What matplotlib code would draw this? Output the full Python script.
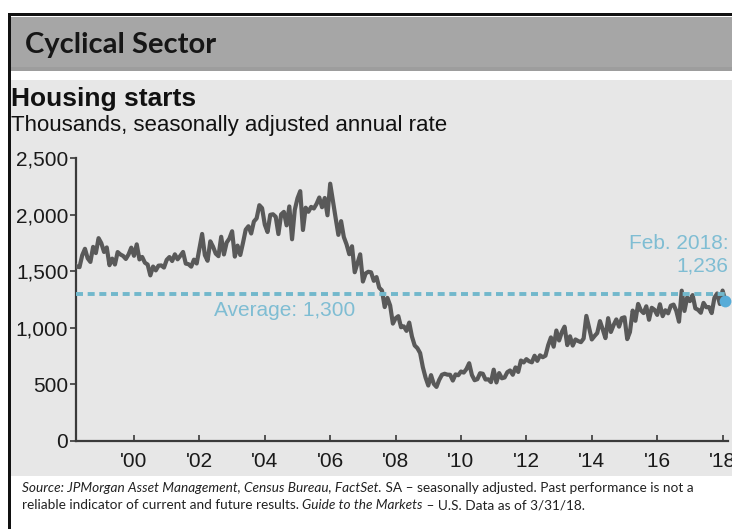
import matplotlib
matplotlib.use("Agg")
import matplotlib.pyplot as plt
from matplotlib.patches import Rectangle
import numpy as np

# Monthly housing starts, thousands SAAR, Mar 1998 - Feb 2018
start_year = 1998
start_month = 3
starts = [
    # 1998 (Mar-Dec)
    1567, 1540, 1536, 1641, 1698, 1614, 1582, 1715, 1660, 1792,
    # 1999
    1748, 1670, 1710, 1553, 1611, 1559, 1669, 1648, 1635, 1608, 1648, 1708,
    # 2000
    1636, 1737, 1604, 1626, 1575, 1559, 1463, 1541, 1507, 1549, 1551, 1532,
    # 2001
    1600, 1625, 1590, 1649, 1605, 1636, 1670, 1567, 1562, 1540, 1602, 1568,
    # 2002
    1698, 1829, 1642, 1592, 1764, 1717, 1655, 1633, 1804, 1648, 1753, 1788,
    # 2003
    1853, 1629, 1726, 1643, 1751, 1867, 1897, 1833, 1939, 1967, 2083, 2057,
    # 2004
    1911, 1846, 1998, 2003, 1981, 1828, 2002, 2024, 1905, 2072, 1782, 2042,
    # 2005
    2144, 2207, 1864, 2061, 2025, 2068, 2054, 2095, 2151, 2065, 2147, 1994,
    # 2006
    2273, 2119, 1969, 1821, 1942, 1802, 1737, 1650, 1720, 1491, 1570, 1649,
    # 2007
    1409, 1480, 1495, 1490, 1415, 1448, 1354, 1330, 1183, 1264, 1197, 1037,
    # 2008
    1084, 1103, 1005, 1013, 973, 1046, 923, 844, 820, 777, 652, 560,
    # 2009
    490, 582, 505, 478, 540, 585, 594, 586, 585, 534, 588, 581,
    # 2010
    614, 604, 636, 687, 583, 537, 546, 599, 594, 543, 545, 520,
    # 2011
    630, 517, 600, 554, 561, 608, 623, 585, 650, 610, 711, 694,
    # 2012
    723, 704, 695, 753, 708, 757, 740, 754, 847, 915, 833, 976,
    # 2013
    888, 962, 1010, 847, 925, 843, 897, 883, 873, 905, 1105, 1003,
    # 2014
    897, 927, 954, 1059, 987, 909, 1085, 963, 1024, 1074, 1010, 1085,
    # 2015
    1093, 900, 963, 1152, 1062, 1211, 1154, 1130, 1190, 1071, 1177, 1159,
    # 2016
    1114, 1208, 1103, 1155, 1128, 1195, 1205, 1150, 1054, 1328, 1149, 1268,
    # 2017
    1236, 1289, 1172, 1159, 1133, 1220, 1182, 1183, 1130, 1265, 1303, 1210,
    # 2018
    1329, 1236,
]
average_value = 1300
latest_label = "Feb. 2018:"
latest_value = 1236

tick_years = [2000, 2002, 2004, 2006, 2008, 2010, 2012, 2014, 2016, 2018]
tick_labels = ["'00", "'02", "'04", "'06", "'08", "'10", "'12", "'14", "'16", "'18"]
y_ticks = [0, 500, 1000, 1500, 2000, 2500]

W, H = 732, 529
fig = plt.figure(figsize=(W / 100, H / 100), dpi=100)
fig.patch.set_facecolor("white")


def fx(px):
    return px / W


def fy(py):
    return 1 - py / H


def band(x0, y0, x1, y1, color):
    fig.patches.append(Rectangle((fx(x0), fy(y1)), fx(x1) - fx(x0), fy(y0) - fy(y1),
                                 transform=fig.transFigure, facecolor=color,
                                 edgecolor="none", zorder=-5))


# page frame and panels
band(8, 13, W, 16, "#111111")          # top rule
band(8, 13, 11, H, "#111111")          # left rule
band(11, 17, W, 67, "#a6a6a6")         # header band
band(11, 67, W, 71, "#9d9d9d")
band(11, 80, W, 476, "#e7e7e7")        # chart panel

fig.text(fx(25), fy(53), "Cyclical Sector", fontsize=21, fontweight="bold",
         family="Lato", color="#161616", va="baseline", ha="left")
fig.text(fx(11), fy(106), "Housing starts", fontsize=19, fontweight="bold",
         family="Liberation Sans", color="#111111", va="baseline", ha="left")
fig.text(fx(11), fy(131), "Thousands, seasonally adjusted annual rate", fontsize=16,
         family="Liberation Sans", color="#111111", va="baseline", ha="left")

# chart area
ax = fig.add_axes([fx(76), fy(441), fx(728) - fx(76), fy(158) - fy(441)])
ax.set_facecolor("none")
px_per_year = 32.7
x_left = 2000 - (134 - 76) / px_per_year
x_right = 2000 + (728 - 134) / px_per_year
ax.set_xlim(x_left, x_right)
ax.set_ylim(0, 2500)

n = len(starts)
t = np.array([start_year + (start_month - 1 + i) / 12 for i in range(n)])
ax.plot(t, starts, color="#595959", lw=3.0, solid_joinstyle="round", zorder=3)

ax.axhline(average_value, color="#72b8cc", lw=2.8, linestyle=(0, (1.8, 1.2)), zorder=4)
ax.plot([t[-1]], [latest_value], "o", color="#57acd8", ms=8.5, mec="none",
        zorder=5, clip_on=False)

label_color = "#7fbdd3"
ax.text(2004.6, average_value - 150, "Average: 1,300", color=label_color,
        fontsize=15, family="Liberation Sans", ha="center", va="center")
ax.text(2018.17, 1745, latest_label, color=label_color, fontsize=15,
        family="Liberation Sans", ha="right", va="center")
ax.text(2018.17, 1550, f"{latest_value:,}", color=label_color, fontsize=15,
        family="Liberation Sans", ha="right", va="center")

for s in ["top", "right"]:
    ax.spines[s].set_visible(False)
for s in ["left", "bottom"]:
    ax.spines[s].set_color("#3a3a3a")
    ax.spines[s].set_linewidth(1.6)

ax.set_yticks(y_ticks)
ax.set_yticklabels([f"{v:,}" for v in y_ticks])
ax.set_xticks(tick_years)
ax.set_xticklabels(tick_labels)
ax.tick_params(axis="y", direction="out", length=4, width=1.2, color="#3a3a3a",
               labelsize=15, labelcolor="#1a1a1a", pad=1.5)
ax.tick_params(axis="x", direction="in", length=4, width=1.2, color="#3a3a3a",
               labelsize=15, labelcolor="#1a1a1a", pad=8)
for lab in ax.get_xticklabels() + ax.get_yticklabels():
    lab.set_family("Liberation Sans")

# source footnote, mixed italic / upright runs
runs_line1 = [
    ("Source: JPMorgan Asset Management, Census Bureau, FactSet.", "italic"),
    (" SA \u2013 seasonally adjusted. Past performance is not a", "normal"),
]
runs_line2 = [
    ("reliable indicator of current and future results. ", "normal"),
    ("Guide to the Markets", "italic"),
    (" \u2013 U.S. Data as of 3/31/18.", "normal"),
]
renderer = fig.canvas.get_renderer()
for runs, ypix in [(runs_line1, 488), (runs_line2, 505)]:
    xpix = 22
    for txt, style in runs:
        tt = fig.text(fx(xpix), fy(ypix), txt, fontsize=9.8, family="Lato",
                      style=style, color="#222222", va="center", ha="left")
        bb = tt.get_window_extent(renderer=renderer)
        xpix += bb.width

fig.savefig("out.png", dpi=100)
